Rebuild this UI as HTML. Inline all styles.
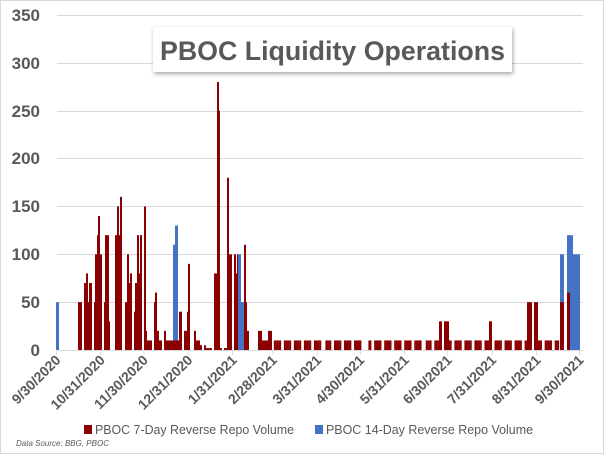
<!DOCTYPE html>
<html><head><meta charset="utf-8"><style>
html,body{margin:0;padding:0;background:#fff}
svg{display:block}
text{font-family:"Liberation Sans",sans-serif;fill:#595959}
</style></head><body>
<svg id="s" width="604" height="454" xmlns="http://www.w3.org/2000/svg">
<rect x="0.5" y="0.5" width="603" height="453" fill="#fff" stroke="#d9d9d9"/>
<g stroke="#d9d9d9" stroke-width="1">
<line x1="57" x2="583" y1="15.5" y2="15.5"/>
<line x1="57" x2="583" y1="63.5" y2="63.5"/>
<line x1="57" x2="583" y1="111.5" y2="111.5"/>
<line x1="57" x2="583" y1="158.5" y2="158.5"/>
<line x1="57" x2="583" y1="206.5" y2="206.5"/>
<line x1="57" x2="583" y1="254.5" y2="254.5"/>
<line x1="57" x2="583" y1="302.5" y2="302.5"/>
</g>
<g font-weight="bold" font-size="17" text-anchor="end">
<text x="40" y="21">350</text><text x="40" y="69">300</text><text x="40" y="117">250</text>
<text x="40" y="164">200</text><text x="40" y="212">150</text><text x="40" y="260">100</text>
<text x="40" y="308">50</text><text x="40" y="356">0</text>
</g>
<g id="bars"></g>
<line x1="57" x2="583" y1="350.5" y2="350.5" stroke="#d9d9d9"/>
<g id="ticks" stroke="#d9d9d9"></g>
<g id="xl" font-weight="bold" font-size="14" text-anchor="end"></g>
<rect x="153" y="27" width="359" height="45" fill="#fff" style="filter:drop-shadow(1px 2px 2px rgba(0,0,0,0.35))"/>
<text x="160" y="60" font-size="27" font-weight="bold" textLength="345" lengthAdjust="spacingAndGlyphs">PBOC Liquidity Operations</text>
<rect x="84" y="425" width="8" height="9" fill="#8b0000"/>
<text x="95" y="434" font-size="12.5" textLength="199" lengthAdjust="spacingAndGlyphs" fill="#404040">PBOC 7-Day Reverse Repo Volume</text>
<rect x="315" y="425" width="8" height="9" fill="#4472c4"/>
<text x="326" y="434" font-size="12.5" textLength="207" lengthAdjust="spacingAndGlyphs" fill="#404040">PBOC 14-Day Reverse Repo Volume</text>
<text x="16" y="446" font-size="8.5" font-style="italic" fill="#262626" textLength="93" lengthAdjust="spacingAndGlyphs">Data Source: BBG, PBOC</text>
</svg>
<script>
var NS="http://www.w3.org/2000/svg",g=document.getElementById("bars");
function bar(x0,x1,v,c){var r=document.createElementNS(NS,"rect");var h=v*0.957;r.setAttribute("x",x0);r.setAttribute("width",x1-x0);r.setAttribute("y",350-h);r.setAttribute("height",h);r.setAttribute("fill",c);g.appendChild(r);}
var B="#4472c4",R="#8b0000";
[[56,59,50],[173,177,110],[175,178,130],[238,241,100],[241,245,50],[560,564,100],[567,573,120],[573,580,100]].forEach(function(a){bar(a[0],a[1],a[2],B);});
[[78,82,50],[84,86,70],[86,88,80],[88,89,50],[89,92,70],[94,95,50],[95,97,100],[97,98,120],[98,100,140],[100,102,100],[104,105,50],[105,109,120],[109,110,30],[115,117,120],[117,119,150],[119,120,120],[120,122,160],[125,127,50],[127,129,100],[129,130,70],[130,132,80],[134,135,40],[135,137,70],[137,139,120],[139,140,80],[140,142,120],[144,146,150],[146,147,20],[147,152,10],[154,155,50],[155,157,60],[157,159,20],[159,162,10],[164,166,20],[166,172,10],[172,179,10],[179,182,40],[184,187,20],[187,188,40],[188,190,90],[194,196,20],[196,200,10],[200,202,5],[204,206,5],[206,212,2],[214,217,80],[217,219,280],[219,220,250],[220,222,2],[224,227,2],[227,229,180],[229,232,100],[234,236,100],[235,237,80],[237,238,100],[244,246,110],[245,247,50],[246,249,20],[258,262,20],[262,264,10],[264,268,10],[268,272,20]].forEach(function(a){bar(a[0],a[1],a[2],R);});
var hol={187:1,215:1,216:1,217:1,257:1};
for(var d=152;d<=365;d++){var wd=(3+d)%7;if(wd==0||wd==6||hol[d])continue;var x=56+d*1.433;if(x>=558)break;bar(x,x+1.6,10,R);}
[[439,442,30],[444,449,30],[489,492,30],[527,532,50],[534,538,50],[560,564,50],[567,570,60]].forEach(function(a){bar(a[0],a[1],a[2],R);});
var labs=["9/30/2020","10/31/2020","11/30/2020","12/31/2020","1/31/2021","2/28/2021","3/31/2021","4/30/2021","5/31/2021","6/30/2021","7/31/2021","8/31/2021","9/30/2021"];
var days=[0,31,61,92,123,151,182,212,243,273,304,335,365];
var tk=document.getElementById("ticks"),xl=document.getElementById("xl");
days.forEach(function(dd,i){var x=56.5+dd*1.433;var l=document.createElementNS(NS,"line");l.setAttribute("x1",x);l.setAttribute("x2",x);l.setAttribute("y1",351);l.setAttribute("y2",355);tk.appendChild(l);
var t=document.createElementNS(NS,"text");t.setAttribute("transform","translate("+(x+5)+",361) rotate(-45)");t.textContent=labs[i];xl.appendChild(t);});
</script>
</body></html>
